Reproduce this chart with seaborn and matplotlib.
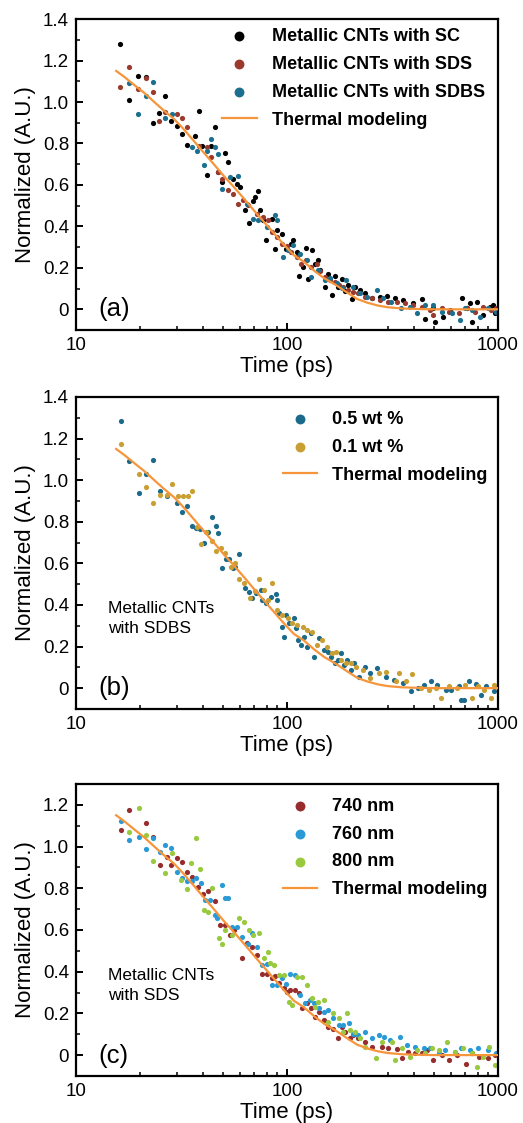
import matplotlib
matplotlib.use("Agg")
import matplotlib.pyplot as plt
import seaborn as sns
from matplotlib.ticker import FixedLocator, FixedFormatter, NullFormatter, LogLocator

# thermal model curve (same in all panels)
model_t = [15.5, 17, 19, 21, 23.5, 26, 29, 32, 36, 40, 45, 50, 56, 63, 70, 78, 87, 97,
           108, 120, 135, 150, 170, 190, 215, 240, 270, 300, 350, 420, 500, 700, 1000]
model_y = [1.15, 1.12, 1.08, 1.045, 1.0, 0.96, 0.92, 0.875, 0.815, 0.76, 0.70, 0.645, 0.59,
           0.53, 0.475, 0.42, 0.365, 0.31, 0.26, 0.23, 0.185, 0.15, 0.118, 0.085, 0.05, 0.032,
           0.018, 0.01, 0.004, 0.0015, 0.0, 0.0, 0.0]

# panel (a)
sc_t = [16.2, 17.9, 19.6, 21.4, 23.1, 24.8, 26.5, 28.1, 30.0, 31.7, 33.4, 36.6, 38.4, 39.4, 41.9,
        43.6, 45.6, 47.3, 49.0, 50.8, 52.5, 55.7, 57.7, 59.8, 63.2, 66.3, 68.7, 70.5, 73.1, 74.5,
        77.3, 79.5, 84.5, 87.7, 90.0, 94.4, 98.9, 104, 107, 111, 114, 119, 123, 126, 131, 136,
        141, 144, 151, 157, 163, 169, 175, 182, 188, 195, 203, 210, 222, 234, 252, 276, 297, 325,
        356, 397, 435, 451, 494, 502, 551, 593, 673, 711, 737, 750, 792, 852, 916, 950, 968]
sc_y = [1.28, 1.01, 1.125, 1.12, 0.90, 0.945, 1.03, 0.91, 0.886, 0.846, 0.795, 0.838, 0.955, 0.79,
        0.65, 0.79, 0.878, 0.66, 0.614, 0.753, 0.713, 0.63, 0.605, 0.59, 0.478, 0.417, 0.522, 0.542,
        0.57, 0.481, 0.43, 0.333, 0.438, 0.293, 0.381, 0.365, 0.293, 0.317, 0.333, 0.277, 0.163,
        0.205, 0.298, 0.144, 0.288, 0.221, 0.237, 0.189, 0.109, 0.17, 0.069, 0.16, 0.109, 0.144,
        0.09, 0.117, 0.048, 0.106, 0.093, 0.077, 0.053, 0.061, 0.064, 0.053, 0.045, 0.029, 0.048,
        -0.048, 0.005, -0.059, -0.035, -0.003, 0.053, 0.005, 0.029, -0.059, 0.037, -0.027, 0.013,
        0.021, -0.019]
sds_t = [16.2, 17.9, 19.6, 21.4, 23.1, 24.8, 26.5, 30.0, 31.7, 33.4, 38.4, 41.9, 43.6, 47.3, 49.0,
         52.5, 55.7, 58.7, 61.7, 65, 71.7, 77.3, 81.5, 84.5, 90.0, 94.4, 99.8, 105, 111, 117, 123,
         130, 138, 144, 151, 160, 169, 177, 185, 195, 206, 217, 234, 252, 276, 302, 331, 363, 397,
         435, 476, 494, 540, 584, 650, 711, 778, 852, 931, 982]
sds_y = [1.074, 1.17, 1.064, 1.114, 1.047, 0.907, 0.95, 0.942, 0.923, 0.878, 0.79, 0.782, 0.737,
         0.662, 0.627, 0.574, 0.558, 0.51, 0.529, 0.502, 0.462, 0.446, 0.43, 0.373, 0.349, 0.317,
         0.304, 0.277, 0.253, 0.221, 0.237, 0.205, 0.221, 0.186, 0.157, 0.141, 0.133, 0.117, 0.106,
         0.093, 0.085, 0.077, 0.061, 0.053, 0.045, 0.037, 0.037, 0.029, 0.021, 0.013, -0.003,
         -0.027, 0.005, -0.011, -0.019, 0.005, -0.011, 0.013, -0.003, 0.005]
sdbs_t = [17.9, 19.6, 21.4, 23.1, 26.5, 28.4, 35.3, 37.3, 40.4, 41.6, 43.6, 45.6, 47.3, 49.0, 53.5,
          58.9, 64.4, 69.1, 73.1, 80.2, 87.7, 89.2, 95.6, 101, 107, 115, 124, 130, 141, 151, 160,
          172, 182, 191, 206, 222, 239, 266, 286, 312, 348, 382, 412, 451, 494, 540, 604, 660, 698,
          750, 822, 900, 982]
sdbs_y = [1.09, 0.94, 1.03, 1.095, 0.923, 0.942, 0.782, 0.763, 0.697, 0.763, 0.822, 0.782, 0.747,
          0.582, 0.638, 0.643, 0.51, 0.437, 0.43, 0.397, 0.454, 0.43, 0.253, 0.285, 0.309, 0.269,
          0.237, 0.157, 0.189, 0.141, 0.149, 0.125, 0.101, 0.141, 0.106, 0.077, 0.061, 0.093, 0.053,
          0.037, 0.005, 0.013, -0.019, 0.021, 0.021, -0.011, -0.019, -0.051, 0.005, -0.003, -0.035,
          0.005, -0.011]

# panel (b)
w05_t = [16.3, 17.9, 19.8, 21.5, 23.2, 25.1, 27.0, 30.1, 31.8, 33.6, 35.5, 37.0, 38.8, 40.6, 42.1,
         44.1, 46.1, 47.2, 49.2, 51.4, 53.3, 55.3, 56.7, 59.5, 63.2, 66.2, 68.6, 71.1, 75.1, 76.5,
         79.3, 83.6, 88.3, 89.8, 91.5, 94.2, 96.6, 99.0, 102, 108, 110, 113, 116, 121, 124, 130,
         135, 142, 150, 156, 162, 168, 174, 180, 187, 193, 201, 208, 220, 233, 247, 268, 293, 322,
         353, 387, 416, 445, 479, 516, 566, 597, 656, 667, 691, 731, 786, 830, 880, 962]
w05_y = [1.283, 1.093, 0.939, 1.032, 1.096, 0.946, 0.923, 0.888, 0.848, 0.875, 0.779, 0.768, 0.763,
         0.696, 0.749, 0.824, 0.781, 0.747, 0.579, 0.619, 0.619, 0.576, 0.584, 0.643, 0.48, 0.464,
         0.432, 0.456, 0.472, 0.424, 0.408, 0.44, 0.453, 0.424, 0.363, 0.296, 0.248, 0.352, 0.312,
         0.336, 0.288, 0.232, 0.208, 0.248, 0.2, 0.264, 0.152, 0.24, 0.184, 0.176, 0.152, 0.12,
         0.136, 0.168, 0.112, 0.136, 0.088, 0.12, 0.056, 0.104, 0.072, 0.096, 0.056, 0.04, 0.024,
         -0.016, 0.0, 0.016, 0.032, 0.016, -0.008, -0.008, 0.008, -0.056, -0.056, 0.032, 0.021,
         -0.032, 0.008, -0.016]
w01_t = [16.3, 19.8, 21.5, 23.2, 25.1, 27.0, 28.5, 30.3, 32.0, 33.8, 35.5, 37.4, 39.0, 41.2, 44.3,
         46.1, 48.8, 51.1, 54.3, 57.0, 59.5, 62.8, 66.6, 70.4, 73.7, 77.9, 81.7, 85.3, 89.8, 95.0,
         101, 106, 112, 119, 125, 132, 139, 146, 154, 163, 171, 180, 190, 201, 212, 228, 247, 274,
         293, 328, 339, 366, 393, 431, 471, 509, 537, 588, 640, 700, 752, 807, 860, 924, 962]
w01_y = [1.176, 1.029, 0.968, 0.891, 0.928, 0.928, 0.981, 0.923, 0.923, 0.923, 0.946, 0.776, 0.691,
         0.75, 0.709, 0.659, 0.672, 0.651, 0.581, 0.603, 0.523, 0.504, 0.432, 0.469, 0.523, 0.472,
         0.424, 0.504, 0.376, 0.352, 0.336, 0.312, 0.304, 0.296, 0.28, 0.272, 0.208, 0.232, 0.2,
         0.168, 0.176, 0.136, 0.12, 0.12, 0.104, 0.088, 0.048, 0.072, 0.08, 0.032, 0.072, 0.032,
         0.069, 0.0, -0.008, 0.0, -0.048, 0.008, 0.0, 0.016, -0.048, 0.008, -0.008, -0.048, 0.016]

# panel (c)
nm740_t = [16.3, 17.9, 21.4, 23.1, 24.9, 26.9, 28.3, 30.1, 31.8, 33.6, 35.4, 37.8, 39.8, 42.2, 45.4,
           48.3, 51.1, 53.5, 55.8, 61.1, 64.5, 68.1, 71.9, 75.9, 80.4, 84.8, 88.1, 91.4, 96.6, 99.8,
           103, 109, 114, 118, 124, 130, 136, 142, 149, 157, 166, 174, 182, 189, 199, 206, 218, 234,
           252, 281, 302, 332, 351, 376, 405, 436, 460, 494, 543, 585, 640, 702, 754, 815, 893, 970]
nm740_y = [1.08, 1.176, 1.115, 1.048, 0.912, 0.952, 0.912, 0.944, 0.925, 0.877, 0.856, 0.808, 0.771,
           0.787, 0.739, 0.624, 0.624, 0.576, 0.598, 0.464, 0.536, 0.52, 0.48, 0.387, 0.387, 0.368,
           0.381, 0.344, 0.323, 0.304, 0.312, 0.312, 0.296, 0.224, 0.248, 0.224, 0.184, 0.208, 0.168,
           0.136, 0.125, 0.08, 0.136, 0.112, 0.08, 0.096, 0.08, 0.064, 0.04, 0.04, 0.032, 0.029,
           -0.016, 0.016, 0.008, 0.008, 0.024, -0.024, 0.0, -0.024, 0.0, -0.045, 0.008, -0.008,
           -0.016, 0.0]
nm760_t = [16.3, 17.9, 19.8, 21.4, 23.1, 24.9, 26.5, 28.3, 30.1, 31.8, 33.6, 35.4, 36.9, 39.2, 41.0,
           43.3, 45.4, 46.5, 49.1, 51.1, 52.6, 54.9, 57.9, 61.5, 65.3, 68.1, 71.9, 76.5, 80.4, 84.8,
           89.6, 94.5, 98.7, 103, 109, 115, 122, 128, 134, 142, 149, 157, 166, 176, 185, 196, 206,
           218, 234, 252, 272, 287, 309, 344, 369, 405, 444, 477, 523, 563, 627, 671, 738, 807, 893,
           979]
nm760_y = [1.123, 1.032, 1.048, 0.989, 1.04, 0.976, 1.008, 0.995, 0.88, 0.848, 0.835, 0.835, 0.848,
           0.824, 0.744, 0.744, 0.672, 0.656, 0.816, 0.755, 0.752, 0.616, 0.616, 0.568, 0.531, 0.584,
           0.52, 0.432, 0.435, 0.336, 0.336, 0.368, 0.339, 0.387, 0.384, 0.288, 0.248, 0.264, 0.248,
           0.224, 0.208, 0.216, 0.176, 0.144, 0.144, 0.152, 0.099, 0.096, 0.112, 0.08, 0.096, 0.088,
           0.072, 0.088, 0.048, 0.04, 0.032, 0.032, 0.008, 0.024, 0.016, 0.032, 0.024, 0.032, 0.024,
           0.008]
nm800_t = [17.9, 19.8, 21.4, 23.1, 26.5, 28.5, 31.5, 33.6, 35.2, 36.9, 38.8, 40.3, 42.2, 44.1, 47.4,
           49.1, 51.1, 54.9, 59.0, 62.6, 65.7, 69.3, 73.7, 77.4, 81.2, 83.4, 86.6, 91.4, 96.6, 102,
           106, 111, 118, 124, 131, 136, 141, 149, 157, 166, 176, 185, 192, 199, 210, 222, 234, 263,
           281, 314, 324, 351, 384, 414, 452, 486, 523, 573, 627, 685, 754, 796, 849, 910, 970]
nm800_y = [1.069, 1.184, 1.056, 0.931, 0.872, 0.968, 0.84, 0.797, 0.92, 1.043, 0.893, 0.696, 0.688,
           0.8, 0.56, 0.531, 0.6, 0.576, 0.656, 0.64, 0.6, 0.576, 0.584, 0.464, 0.496, 0.44, 0.432,
           0.384, 0.384, 0.256, 0.24, 0.376, 0.376, 0.336, 0.272, 0.232, 0.256, 0.264, 0.16, 0.2,
           0.176, 0.112, 0.2, 0.12, 0.112, 0.08, 0.04, -0.016, 0.064, 0.064, -0.024, 0.032, -0.008,
           0.024, 0.008, 0.032, 0.024, 0.064, 0.016, 0.032, 0.008, -0.056, -0.008, 0.04, -0.048]

panel_tags = ["(a)", "(b)", "(c)"]
xtick_vals = [10, 100, 1000]
xtick_text = ["10", "100", "1000"]
ytick_vals = [0, 0.2, 0.4, 0.6, 0.8, 1.0, 1.2, 1.4]
ytick_text = ["0", "0.2", "0.4", "0.6", "0.8", "1.0", "1.2", "1.4"]

ORANGE = "#f7953b"

plt.rcParams["font.family"] = ["Liberation Sans", "DejaVu Sans"]
plt.rcParams["axes.linewidth"] = 1.6

fig = plt.figure(figsize=(5.23, 11.23), dpi=100)
ax_a = fig.add_axes([0.1453, 0.7061, 0.8069, 0.2769])
ax_b = fig.add_axes([0.1453, 0.3687, 0.8069, 0.2778])
ax_c = fig.add_axes([0.1453, 0.0419, 0.8069, 0.2600])


def dots(ax, t, y, color, label):
    sns.scatterplot(x=t, y=y, ax=ax, color=color, s=14, linewidth=0, label=label, zorder=2)


def model(ax):
    sns.lineplot(x=model_t, y=model_y, ax=ax, color=ORANGE, linewidth=1.6,
                 label="Thermal modeling", estimator=None, sort=False, zorder=3)


def style(ax, ymax, tag, legend_xy):
    ax.set_xscale("log")
    ax.set_xlim(10, 1000)
    ax.set_ylim(-0.1, ymax)
    ax.xaxis.set_major_locator(FixedLocator(xtick_vals))
    ax.xaxis.set_major_formatter(FixedFormatter(xtick_text))
    ax.xaxis.set_minor_locator(LogLocator(base=10, subs=range(2, 10)))
    ax.xaxis.set_minor_formatter(NullFormatter())
    yv = [v for v in ytick_vals if v <= ymax + 1e-9]
    yl = [s for v, s in zip(ytick_vals, ytick_text) if v <= ymax + 1e-9]
    ax.yaxis.set_major_locator(FixedLocator(yv))
    ax.yaxis.set_major_formatter(FixedFormatter(yl))
    ax.yaxis.set_minor_locator(FixedLocator([v + 0.1 for v in yv if v + 0.1 < ymax]))
    ax.tick_params(which="major", direction="in", length=5, width=1.4, labelsize=13.5, pad=5)
    ax.tick_params(which="minor", direction="in", length=3, width=1.1)
    ax.set_xlabel("Time (ps)", fontsize=16, labelpad=1.5)
    ax.set_ylabel("Normalized (A.U.)", fontsize=16, labelpad=5)
    ax.text(0.052, 0.068, tag, transform=ax.transAxes, fontsize=18.5, va="center")
    ax.legend(loc="upper left", bbox_to_anchor=legend_xy, frameon=False,
              prop={"weight": "bold", "size": 13}, markerscale=1.9, handlelength=1.9,
              handletextpad=0.85, labelspacing=0.6, borderaxespad=0.2)


dots(ax_a, sc_t, sc_y, "#000000", "Metallic CNTs with SC")
dots(ax_a, sds_t, sds_y, "#9a3a2f", "Metallic CNTs with SDS")
dots(ax_a, sdbs_t, sdbs_y, "#1c6f8e", "Metallic CNTs with SDBS")
model(ax_a)
style(ax_a, 1.4, panel_tags[0], (0.321, 1.006))

dots(ax_b, w05_t, w05_y, "#1b6a8b", "0.5 wt %")
dots(ax_b, w01_t, w01_y, "#c99f33", "0.1 wt %")
model(ax_b)
style(ax_b, 1.4, panel_tags[1], (0.464, 0.99))
ax_b.text(0.076, 0.29, "Metallic CNTs\nwith SDBS", transform=ax_b.transAxes,
          fontsize=12.5, va="center", linespacing=1.4)

dots(ax_c, nm740_t, nm740_y, "#962c2c", "740 nm")
dots(ax_c, nm760_t, nm760_y, "#2a9ad7", "760 nm")
dots(ax_c, nm800_t, nm800_y, "#98c93e", "800 nm")
model(ax_c)
style(ax_c, 1.3, panel_tags[2], (0.464, 0.99))
ax_c.text(0.076, 0.31, "Metallic CNTs\nwith SDS", transform=ax_c.transAxes,
          fontsize=12.5, va="center", linespacing=1.4)

fig.savefig("out.png", dpi=100)
